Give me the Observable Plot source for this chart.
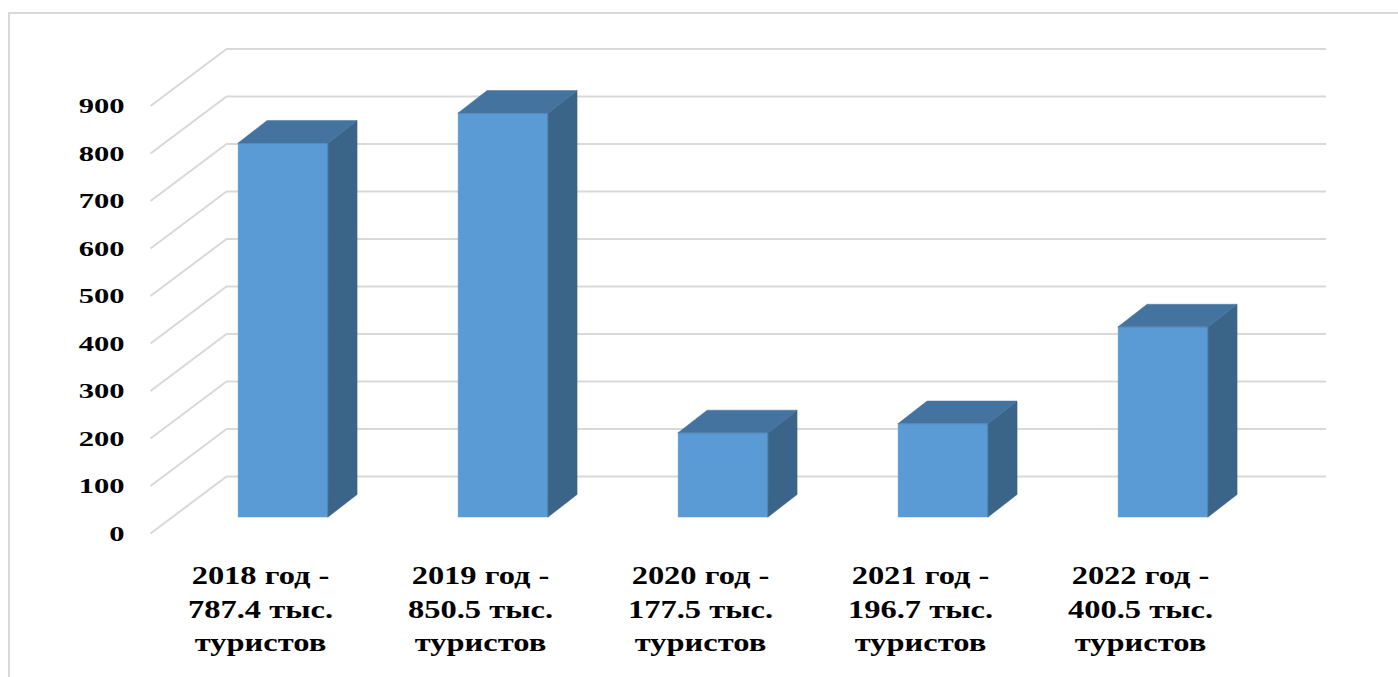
<!DOCTYPE html>
<html><head><meta charset="utf-8">
<script src="https://cdn.jsdelivr.net/npm/d3@7"></script>
<script src="https://cdn.jsdelivr.net/npm/@observablehq/plot@0.6"></script>
<style>
body{margin:0;background:#fff;}
#wrap{position:relative;width:1398px;height:677px;overflow:hidden;background:#fff;}
#border{position:absolute;left:8px;top:12px;right:-10px;bottom:-10px;border-top:2px solid #d9d9d9;border-left:2px solid #d9d9d9;pointer-events:none;}
</style></head><body><div id="wrap"><div id="border"></div></div>
<script>
// ---- data ----
const years = ["2018", "2019", "2020", "2021", "2022"];
const tourists = [787.4, 850.5, 177.5, 196.7, 400.5];
const yTicks = [0, 100, 200, 300, 400, 500, 600, 700, 800, 900];
const labelWord = "год";
const unitWord = "тыс.";
const touristWord = "туристов";

// ---- styling constants (3D depth in data units) ----
const FRONT = "#5b9bd5", TOP = "#44739f", SIDE = "#3a6488", GRID = "#d9d9d9";
const WALL_DX = 0.3455, WALL_DY = 120;   // floor depth
const SX = 0.105, SY = 33.7;             // bar front offset
const HW = 0.2045;                       // bar half width
const DDX = 0.1318, DDY = 47.4;          // bar depth

const bars = years.map((y, i) => ({year: y, i, value: tourists[i]}));
const sideData = bars.flatMap(b => [
  {year: b.year, x: b.i + SX + HW, lo: SY, hi: b.value + SY},
  {year: b.year, x: b.i + SX + HW + DDX, lo: SY + DDY, hi: b.value + SY + DDY}
]);
const topData = bars.flatMap(b => [
  {year: b.year, y: b.value + SY, l: b.i + SX - HW, r: b.i + SX + HW},
  {year: b.year, y: b.value + SY + DDY, l: b.i + SX - HW + DDX, r: b.i + SX + HW + DDX}
]);

const serif = "'Liberation Serif', 'Times New Roman', 'DejaVu Serif', serif";

const plot = Plot.plot({
  width: 1398,
  height: 677,
  marginLeft: 150,
  marginRight: 148,
  marginTop: 58,
  marginBottom: 144,
  style: {fontFamily: serif, color: "#000", background: "transparent", overflow: "visible"},
  x: {domain: [-0.5, 4.5], axis: null},
  y: {domain: [0, 1000]},
  marks: [
    Plot.ruleY(yTicks, {y: d => d + WALL_DY, x1: () => -0.5 + WALL_DX, x2: () => 4.5 + WALL_DX, stroke: GRID, strokeWidth: 2}),
    Plot.link(yTicks, {x1: () => -0.5, y1: d => d, x2: () => -0.5 + WALL_DX, y2: d => d + WALL_DY, stroke: GRID, strokeWidth: 2}),
    Plot.axisY(yTicks, {anchor: "left", tickSize: 0, tickPadding: 26, fontSize: 22, fontWeight: "bold", fontFamily: serif, label: null, tickFormat: d => String(d)}),
    Plot.rect(bars, {x1: d => d.i + SX - HW, x2: d => d.i + SX + HW, y1: () => SY, y2: d => d.value + SY, fill: FRONT, stroke: FRONT, strokeWidth: 0.5}),
    Plot.areaY(sideData, {x: "x", y1: "lo", y2: "hi", z: "year", fill: SIDE, stroke: SIDE, strokeWidth: 0.5}),
    Plot.areaX(topData, {y: "y", x1: "l", x2: "r", z: "year", fill: TOP, stroke: TOP, strokeWidth: 0.5}),
    Plot.text(bars, {
      x: d => d.i, y: () => 0,
      text: d => `${d.year} ${labelWord} -\n${d.value.toFixed(1)} ${unitWord}\n${touristWord}`,
      dy: 27, lineAnchor: "top", lineHeight: 1.34, fontSize: 25, fontWeight: "bold", fontFamily: serif, fill: "#000"
    })
  ]
});

// horizontally widen the label glyphs, keeping each label's anchor point fixed
function stretch(root, selector, s) {
  root.querySelectorAll(selector).forEach(t => {
    const T = t.getAttribute("transform") || "";
    t.setAttribute("transform", `${T} scale(${s},1)`);
  });
}
stretch(plot, 'g[aria-label="text"] > text', 1.3);
stretch(plot, 'g[aria-label="y-axis tick label"] > text', 1.39);

const wrap = document.getElementById("wrap");
plot.style.position = "absolute";
plot.style.left = "0";
plot.style.top = "0";
wrap.insertBefore(plot, wrap.firstChild);
</script>
</body></html>
